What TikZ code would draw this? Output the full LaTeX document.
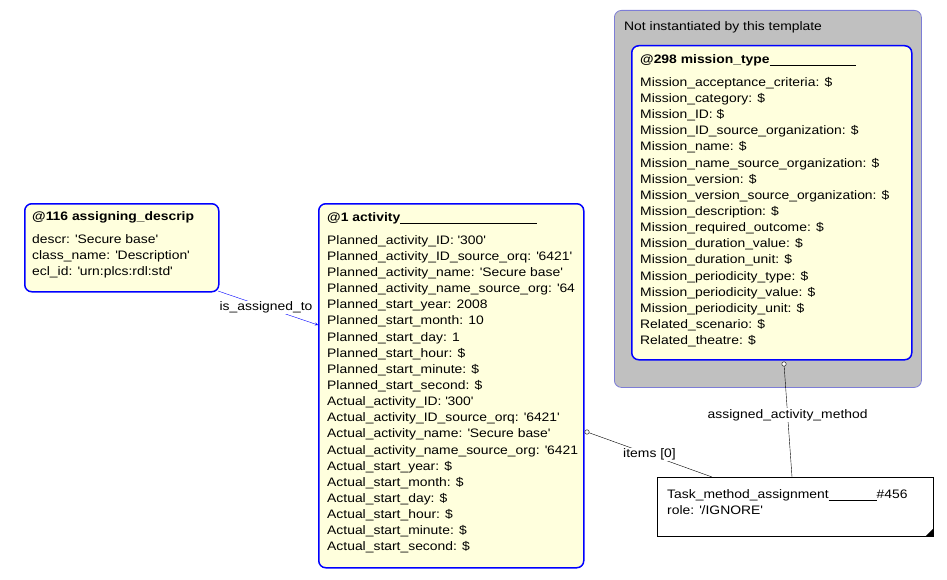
\documentclass[tikz,border=0pt]{standalone}
\usepackage{fontspec}
\setmainfont[FakeStretch=1.13]{Liberation Sans}
\usetikzlibrary{positioning}
\definecolor{boxfill}{RGB}{255,255,221}
\definecolor{boxline}{RGB}{0,0,255}
\definecolor{grpfill}{RGB}{192,192,192}
\newcommand{\q}{\textquotesingle}
\tikzset{
  entity/.style={draw=boxline, line width=1.5pt, fill=boxfill, rounded corners=7pt, anchor=north west, inner sep=0pt},
  attrs/.style={anchor=north west, align=left, inner sep=0pt, font=\fontsize{12.3}{16.15}\selectfont},
  lbl/.style={fill=white, inner sep=1pt, font=\fontsize{12.3}{14}\selectfont},
  endring/.style={circle, draw, fill=white, inner sep=0pt, minimum size=4.5pt}
}
\begin{document}
\begin{tikzpicture}[x=1pt,y=-1pt]
    \useasboundingbox (0,0) rectangle (947,580);
    % group box
    \node (grp) [draw=boxline!35!grpfill, line width=0.8pt, fill=grpfill, rounded corners=7pt, anchor=north west,
        minimum width=307pt, minimum height=377pt] at (614,10) {};
    \node [attrs] at (624,21) {Not instantiated by this template};

    % entities
    \node (asg) [entity, minimum width=194pt, minimum height=88pt] at (24,203) {};
    \node [attrs] at (32,211) {\textbf{@116 assigning\_descrip}};
    \node [attrs] at (32,234) {descr: \q Secure base\q\\class\_name: \q Description\q\\ecl\_id: \q urn:plcs:rdl:std\q};

    \node (act) [entity, minimum width=265pt, minimum height=364pt] at (318,203) {};
    \node [attrs] at (327,212) {\textbf{@1 activity}\rule[-2pt]{137pt}{0.6pt}};
    \node [attrs] at (327,235) {Planned\_activity\_ID: \q 300\q\\
        Planned\_activity\_ID\_source\_orq: \q 6421\q\\
        Planned\_activity\_name: \q Secure base\q\\
        Planned\_activity\_name\_source\_org: \q 64\\
        Planned\_start\_year: 2008\\
        Planned\_start\_month: 10\\
        Planned\_start\_day: 1\\
        Planned\_start\_hour: \$\\
        Planned\_start\_minute: \$\\
        Planned\_start\_second: \$\\
        Actual\_activity\_ID: \q 300\q\\
        Actual\_activity\_ID\_source\_orq: \q 6421\q\\
        Actual\_activity\_name: \q Secure base\q\\
        Actual\_activity\_name\_source\_org: \q 6421\\
        Actual\_start\_year: \$\\
        Actual\_start\_month: \$\\
        Actual\_start\_day: \$\\
        Actual\_start\_hour: \$\\
        Actual\_start\_minute: \$\\
        Actual\_start\_second: \$};

    \node (mis) [entity, minimum width=280pt, minimum height=314pt] at (631,45) {};
    \node [attrs] at (640,54) {\textbf{@298 mission\_type}\rule[-2pt]{86pt}{0.6pt}};
    \node [attrs] at (640,77) {Mission\_acceptance\_criteria: \$\\
        Mission\_category: \$\\
        Mission\_ID: \$\\
        Mission\_ID\_source\_organization: \$\\
        Mission\_name: \$\\
        Mission\_name\_source\_organization: \$\\
        Mission\_version: \$\\
        Mission\_version\_source\_organization: \$\\
        Mission\_description: \$\\
        Mission\_required\_outcome: \$\\
        Mission\_duration\_value: \$\\
        Mission\_duration\_unit: \$\\
        Mission\_periodicity\_type: \$\\
        Mission\_periodicity\_value: \$\\
        Mission\_periodicity\_unit: \$\\
        Related\_scenario: \$\\
        Related\_theatre: \$};

    \node (tma) [draw, fill=white, anchor=north west, inner sep=0pt, minimum width=276pt, minimum height=59pt] at (657,477) {};
    \fill (tma.south east) -- ++(-8,0) -- ++(8,-8) -- cycle;
    \node [attrs] at (667,489) {Task\_method\_assignment\rule[-2pt]{48pt}{0.6pt}\#456\\role: \q/IGNORE\q};

    % connectors
    \coordinate (asgEnd) at (218,291);
    \coordinate (actIn) at (318,325);
    \draw [-stealth, boxline] (asgEnd) -- node [lbl, pos=0.48, text=black] {is\_assigned\_to} (actIn);

    \coordinate (actOut) at (587,432);
    \coordinate (tmaL) at (712,477);
    \draw (actOut) -- node [lbl, pos=0.5] {items [0]} (tmaL);
    \node [endring] at (actOut) {};

    \coordinate (misOut) at (784,364);
    \coordinate (tmaT) at (792,477);
    \draw (misOut) -- node [lbl, pos=0.45] {assigned\_activity\_method} (tmaT);
    \node [endring] at (misOut) {};
\end{tikzpicture}
\end{document}
